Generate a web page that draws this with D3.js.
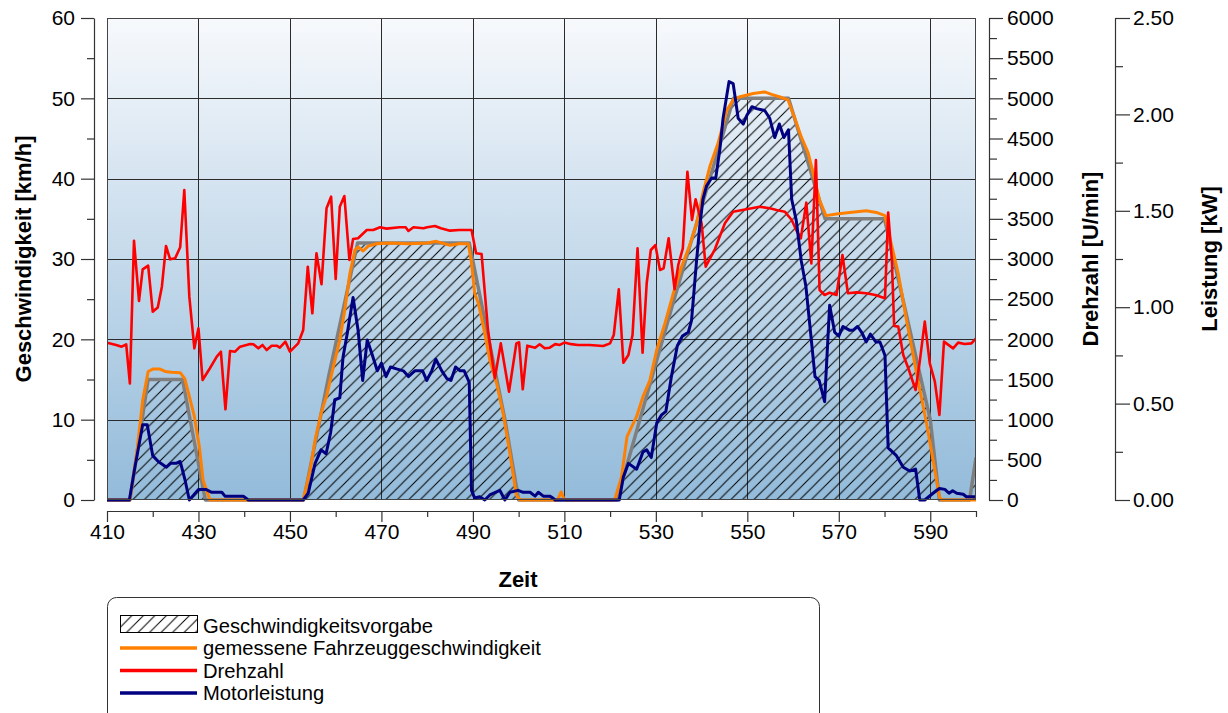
<!DOCTYPE html>
<html>
<head>
<meta charset="utf-8">
<script src="https://cdn.jsdelivr.net/npm/d3@7"></script>
<style>
  html, body { margin: 0; padding: 0; background: #ffffff; }
  svg { display: block; font-family: "Liberation Sans", Arial, sans-serif; }
</style>
</head>
<body>
<svg id="chart" width="1228" height="713"></svg>
<script>
// ---- data: time [s] and readings ----
const setSpeed = [ // Geschwindigkeitsvorgabe [km/h]
  [410,0],[415,0],[419,15],[426.5,15],[431.5,0],[453,0],[458.5,15.5],[464.8,32],[489.2,32],[497,10],[500,0],
  [521.5,0],[534,25],[547,50],[559,50],[567,35],[580,35],[590,10],[592,0],[598.6,0],[600,5.3]
];
const measuredSpeed = [ // gemessene Fahrzeuggeschwindigkeit [km/h]
  [410,0],[415,0],[416.5,5.8],[417.8,12.4],[419,16.0],[420,16.3],[421.6,16.3],[422.7,16.0],[424.1,15.9],[426,15.85],
  [427,15.1],[428,12.9],[429.1,10.4],[430.2,6.6],[431,2.5],[432.5,0],[452.9,0],[454.4,3.7],[455.5,7.5],[456.9,11.0],
  [458,12.9],[459.5,16.6],[460.9,19.9],[462,23.7],[463.1,28.2],[464.2,31.1],[464.9,31.5],[466,31.0],[467.1,31.6],
  [468.9,31.9],[471.8,32.0],[476,31.9],[480,32.0],[482,32.2],[485,31.7],[487,31.9],[489,31.9],[489.7,29.5],[490.4,25.7],
  [491.2,24.5],[492.5,21.0],[493.7,17.4],[495.2,14.5],[496.6,10.8],[498.1,5.8],[499.5,0.6],[500.3,0],[508.5,0],[509.3,1.0],
  [510,0],[521,0],[522.5,2.9],[523.7,7.9],[525.8,10.4],[527.2,12.9],[528.7,14.9],[530.2,18.7],[532,22.0],[533.8,25.7],
  [535.6,29.0],[537.4,31.7],[538.9,34.4],[540.3,38.2],[541.8,41.5],[543.6,44.4],[545.5,48.5],[546.9,49.8],[548.4,50.2],
  [551.3,50.6],[553.8,50.8],[555.3,50.5],[557.5,50.1],[558.9,49.8],[560.4,47.5],[561.8,45.2],[563.3,43.2],[564.4,40.7],
  [565.8,37.3],[567.2,35.4],[569.5,35.6],[572.4,35.8],[576,36.0],[578.2,35.8],[580.1,35.4],[581.1,32.8],[583,28.2],
  [584.8,22.4],[587,15.8],[589.2,9.5],[591,3.7],[592,0.4],[592.5,0],[600,0]
];
const engineSpeed = [ // Drehzahl [U/min]
  [410,1958],[412,1930],[413.2,1909],[414.2,1938],[415,1452],[415.9,3228],[417,2477],[417.8,2871],[419,2917],[420,2345],
  [421.1,2395],[422,2656],[422.9,3162],[423.8,2996],[424.9,3009],[426,3146],[426.9,3859],[428,2531],[429.1,1888],
  [430,2137],[430.9,1494],[432.5,1640],[434,1784],[434.9,1846],[435.9,1129],[436.9,1855],[438,1846],[439.1,1909],
  [441.3,1942],[442,1938],[443.1,1888],[444,1930],[444.9,1867],[446,1921],[447.1,1921],[447.8,1896],[449,1971],
  [450,1846],[451.8,1950],[452.9,2116],[453.9,2904],[454.9,2324],[455.8,3071],[456.9,2685],[458,3631],[459,3776],
  [460,2751],[460.9,3651],[461.9,3784],[463,2988],[463.8,3249],[464.9,3258],[466.8,3361],[468.2,3361],[469.7,3395],
  [471.1,3378],[474,3395],[475.3,3395],[475.9,3349],[477,3395],[479.2,3382],[480,3395],[481.7,3411],[483,3382],
  [485,3353],[487,3361],[489.7,3361],[490.7,3071],[491.9,3062],[493.3,2116],[494.8,1515],[496.1,1950],[497.9,1348],
  [499.5,1950],[500.1,1963],[500.9,1378],[501.9,1921],[503.6,1896],[504.6,1938],[505.7,1888],[506.8,1896],[508,1940],
  [509,1930],[510,1960],[511.5,1940],[513,1930],[515.5,1930],[518.5,1917],[520,1950],[520.8,2054],[521.9,2623],
  [522.9,1709],[524,1805],[524.9,2054],[526,3133],[527.1,1834],[528,2698],[528.9,3112],[529.9,3174],[530.9,2863],
  [531.7,2884],[532.8,3258],[534.1,2623],[534.9,2925],[535.9,3133],[536.9,4087],[537.9,3486],[538.7,3743],[540,3445],
  [540.9,2904],[542.9,3121],[545.1,3445],[546.9,3589],[549.8,3619],[552.7,3651],[554.9,3631],[556.4,3610],[558.2,3589],
  [559.7,3486],[560.7,3361],[561.7,3258],[562.9,3701],[564,2946],[565,4232],[565.8,2614],[566.9,2552],[568,2581],
  [569.5,2552],[570.8,3050],[572,2573],[573.9,2585],[576,2573],[578,2552],[580.1,2511],[580.8,3577],[581.6,2988],
  [582.1,2166],[583,2158],[584.1,1805],[585.2,1640],[586.8,1369],[587.7,1722],[588.8,2220],[589.9,1701],[591,1473],
  [592,1058],[593,1971],[595,1888],[596.1,1959],[597.5,1942],[599,1950],[600,2013]
];
const enginePower = [ // Motorleistung [kW]
  [410,0],[414.9,0],[416.1,0.17],[417.8,0.39],[418.8,0.39],[420,0.23],[421.2,0.20],[423,0.17],[423.9,0.19],[425.1,0.19],
  [426,0.20],[427,0.11],[428,0],[429.1,0.03],[430,0.055],[431.6,0.055],[432.9,0.04],[435.1,0.04],[435.8,0.02],[439.8,0.02],
  [440.9,0],[452.9,0],[454,0.035],[455.5,0.19],[456.8,0.26],[457.9,0.24],[458.9,0.35],[459.8,0.52],[460.9,0.53],
  [461.6,0.74],[462.5,0.86],[463.8,1.05],[464.9,0.88],[465.9,0.62],[466.9,0.83],[467.9,0.76],[469.1,0.67],[470,0.71],
  [471,0.64],[472,0.69],[473.3,0.68],[474.8,0.67],[475.9,0.64],[477.3,0.67],[479,0.67],[479.9,0.62],[481,0.67],
  [481.9,0.73],[483.2,0.67],[484.3,0.63],[485.2,0.62],[486.2,0.69],[487.2,0.67],[488.1,0.67],[489.2,0.61],[489.7,0.05],
  [490.4,0.01],[491.5,0.017],[492.6,0],[493.7,0.026],[495.9,0.05],[497,0],[498.1,0.04],[499.9,0.05],[501,0.04],
  [502.5,0.04],[503.6,0.02],[504.3,0.04],[505.4,0.02],[506.8,0.02],[507.5,0.01],[508,0],[522,0],[522.9,0.12],[524,0.19],
  [525.8,0.16],[527.2,0.25],[528,0.26],[529,0.22],[530.2,0.40],[531.2,0.44],[532.2,0.46],[533.4,0.64],[534.7,0.80],
  [535.8,0.85],[537.1,0.87],[537.8,0.93],[538.3,1.07],[538.9,1.24],[539.6,1.42],[540.3,1.56],[541.1,1.63],[542.2,1.67],
  [543.1,1.67],[544,1.82],[544.7,1.98],[546,2.17],[546.9,2.16],[548,1.98],[549.1,1.95],[550,2.00],[551,2.04],[552,2.03],
  [553.8,2.02],[554.9,1.98],[556,1.88],[557,1.95],[558,1.88],[559,1.92],[559.7,1.56],[560.7,1.45],[561.8,1.24],
  [562.8,1.11],[563.7,0.90],[564.8,0.64],[565.7,0.62],[566.9,0.51],[568,1.01],[569.1,0.87],[570,0.85],[570.9,0.90],
  [572.4,0.88],[573.1,0.88],[574.1,0.90],[575,0.87],[576,0.82],[576.9,0.86],[578.1,0.82],[579,0.82],[580.1,0.75],
  [580.8,0.27],[582.6,0.23],[584.1,0.17],[585.5,0.15],[586.8,0.16],[587.7,0],[588.8,0],[590.6,0.035],[592,0.06],
  [593.2,0.055],[594.1,0.035],[594.9,0.048],[595.8,0.035],[597.2,0.03],[597.9,0.017],[600,0.017]
];

const timeTicks = [410, 430, 450, 470, 490, 510, 530, 550, 570, 590];
const legendLabels = ["Geschwindigkeitsvorgabe", "gemessene Fahrzeuggeschwindigkeit", "Drehzahl", "Motorleistung"];

// ---- layout ----
const svg = d3.select("#chart");
const plot = { left: 107, right: 976, top: 18, bottom: 500 };
const FONT = "Liberation Sans, Arial, sans-serif";

const x = d3.scaleLinear().domain([410, 600]).range([plot.left, plot.right]);
const ySpeed = d3.scaleLinear().domain([0, 60]).range([plot.bottom, plot.top]);
const yRpm = d3.scaleLinear().domain([0, 6000]).range([plot.bottom, plot.top]);
const yPower = d3.scaleLinear().domain([0, 2.5]).range([plot.bottom, plot.top]);

const defs = svg.append("defs");
const grad = defs.append("linearGradient").attr("id", "bg").attr("x1", 0).attr("y1", 0).attr("x2", 0).attr("y2", 1);
grad.append("stop").attr("offset", "0%").attr("stop-color", "#f7f9fc");
grad.append("stop").attr("offset", "100%").attr("stop-color", "#93bbda");

const hatch = defs.append("pattern").attr("id", "hatch").attr("patternUnits", "userSpaceOnUse")
  .attr("width", 11.5).attr("height", 11.5);
hatch.append("path").attr("d", "M0,11.5 L11.5,0 M-2,2 L2,-2 M9.5,13.5 L13.5,9.5")
  .attr("stroke", "#000").attr("stroke-width", 1).attr("fill", "none");

defs.append("clipPath").attr("id", "plotclip").append("rect")
  .attr("x", plot.left).attr("y", plot.top - 4).attr("width", plot.right - plot.left).attr("height", plot.bottom - plot.top + 8);

// background
svg.append("rect").attr("x", plot.left).attr("y", plot.top)
  .attr("width", plot.right - plot.left).attr("height", plot.bottom - plot.top).attr("fill", "url(#bg)");

// grid
const grid = svg.append("g").attr("stroke", "#2b2b2b").attr("stroke-width", 1);
grid.selectAll("line.h").data(d3.range(10, 61, 10)).join("line")
  .attr("x1", plot.left).attr("x2", plot.right)
  .attr("y1", d => Math.round(ySpeed(d)) + 0.5).attr("y2", d => Math.round(ySpeed(d)) + 0.5);
grid.selectAll("line.v").data(timeTicks.slice(1)).join("line")
  .attr("y1", plot.top).attr("y2", plot.bottom)
  .attr("x1", d => Math.round(x(d)) + 0.5).attr("x2", d => Math.round(x(d)) + 0.5);

// series
const g = svg.append("g").attr("clip-path", "url(#plotclip)");
const lineSpeed = d3.line().x(d => x(d[0])).y(d => ySpeed(d[1]));
const areaSet = d3.area().x(d => x(d[0])).y0(ySpeed(0)).y1(d => ySpeed(d[1]));

g.append("path").datum(setSpeed).attr("d", areaSet).attr("fill", "url(#hatch)");
g.append("path").datum(setSpeed).attr("d", lineSpeed).attr("fill", "none")
  .attr("stroke", "#7f7f7f").attr("stroke-width", 3.5).attr("stroke-linejoin", "round");
g.append("path").datum(measuredSpeed).attr("d", lineSpeed).attr("fill", "none")
  .attr("stroke", "#ff8000").attr("stroke-width", 3).attr("stroke-linejoin", "round");
g.append("path").datum(engineSpeed)
  .attr("d", d3.line().x(d => x(d[0])).y(d => yRpm(d[1])))
  .attr("fill", "none").attr("stroke", "#ff0000").attr("stroke-width", 2.6).attr("stroke-linejoin", "round");
g.append("path").datum(enginePower)
  .attr("d", d3.line().x(d => x(d[0])).y(d => yPower(d[1])))
  .attr("fill", "none").attr("stroke", "#000080").attr("stroke-width", 3).attr("stroke-linejoin", "round");

// plot frame
svg.append("rect").attr("x", plot.left + 0.5).attr("y", plot.top + 0.5)
  .attr("width", plot.right - plot.left - 1).attr("height", plot.bottom - plot.top - 1)
  .attr("fill", "none").attr("stroke", "#444").attr("stroke-width", 1);

// ---- axes ----
function styleAxis(sel) {
  sel.selectAll("path.domain").attr("stroke", "#333").attr("stroke-width", 1.2);
  sel.selectAll(".tick line").attr("stroke", "#333").attr("stroke-width", 1.2);
  sel.selectAll(".tick text").attr("fill", "#000").style("font-family", FONT).style("font-size", "21px");
}

// left: speed
const leftX = 94;
svg.append("g").attr("transform", `translate(${leftX},0)`)
  .call(d3.axisLeft(ySpeed).tickValues(d3.range(5, 60, 10)).tickSize(7).tickFormat(""))
  .call(styleAxis).call(s => s.select("path.domain").remove());
svg.append("g").attr("transform", `translate(${leftX},0)`)
  .call(d3.axisLeft(ySpeed).tickValues(d3.range(0, 61, 10)).tickSize(13).tickSizeOuter(0).tickPadding(6))
  .call(styleAxis);

// bottom: time
const axisY = 511;
const bottomScale = x.copy();
svg.append("g").attr("transform", `translate(0,${axisY})`)
  .call(d3.axisBottom(bottomScale).tickValues(d3.range(420, 601, 20)).tickSize(6).tickFormat(""))
  .call(styleAxis).call(s => s.select("path.domain").remove());
svg.append("g").attr("transform", `translate(0,${axisY})`)
  .call(d3.axisBottom(bottomScale).tickValues(timeTicks).tickSize(11).tickSizeOuter(0).tickPadding(2))
  .call(styleAxis);

// right 1: engine speed
const rpmX = 989;
svg.append("g").attr("transform", `translate(${rpmX},0)`)
  .call(d3.axisRight(yRpm).tickValues(d3.range(250, 6000, 500)).tickSize(8).tickFormat(""))
  .call(styleAxis).call(s => s.select("path.domain").remove());
svg.append("g").attr("transform", `translate(${rpmX},0)`)
  .call(d3.axisRight(yRpm).tickValues(d3.range(0, 6001, 500)).tickSize(14).tickSizeOuter(0).tickPadding(4).tickFormat(d3.format("d")))
  .call(styleAxis);

// right 2: power
const powX = 1115;
svg.append("g").attr("transform", `translate(${powX},0)`)
  .call(d3.axisRight(yPower).tickValues([0.25, 0.75, 1.25, 1.75, 2.25]).tickSize(8).tickFormat(""))
  .call(styleAxis).call(s => s.select("path.domain").remove());
svg.append("g").attr("transform", `translate(${powX},0)`)
  .call(d3.axisRight(yPower).tickValues([0, 0.5, 1, 1.5, 2, 2.5]).tickSize(15).tickSizeOuter(0).tickPadding(3).tickFormat(d3.format(".2f")))
  .call(styleAxis);

// axis titles
const midY = (plot.top + plot.bottom) / 2;
function vTitle(cx, text) {
  svg.append("text").attr("transform", `translate(${cx},${midY}) rotate(-90)`)
    .attr("text-anchor", "middle").attr("dominant-baseline", "central")
    .style("font-family", FONT).style("font-size", "22px").style("font-weight", "bold").text(text);
}
vTitle(23, "Geschwindigkeit [km/h]");
vTitle(1090, "Drehzahl [U/min]");
vTitle(1209, "Leistung [kW]");
svg.append("text").attr("x", 518).attr("y", 587).attr("text-anchor", "middle")
  .style("font-family", FONT).style("font-size", "22px").style("font-weight", "bold").text("Zeit");

// ---- legend ----
const lg = svg.append("g");
lg.append("rect").attr("x", 107.5).attr("y", 597.5).attr("width", 712).attr("height", 140).attr("rx", 9)
  .attr("fill", "#fff").attr("stroke", "#333").attr("stroke-width", 1);
const rowY = [625.5, 648, 670.5, 693];
const swatchX0 = 120, swatchX1 = 197;
lg.append("rect").attr("x", swatchX0 + 0.5).attr("y", 615.5).attr("width", swatchX1 - swatchX0).attr("height", 17)
  .attr("fill", "url(#hatch)").attr("stroke", "#000").attr("stroke-width", 1);
const legendColors = [null, "#ff8000", "#ff0000", "#000080"];
legendColors.forEach((c, i) => {
  if (c) lg.append("line").attr("x1", swatchX0).attr("x2", swatchX1).attr("y1", rowY[i]).attr("y2", rowY[i])
    .attr("stroke", c).attr("stroke-width", 3.5);
});
lg.selectAll("text").data(legendLabels).join("text")
  .attr("x", 203).attr("y", (d, i) => rowY[i]).attr("dominant-baseline", "central")
  .style("font-family", FONT).style("font-size", "20.2px").text(d => d);
</script>
</body>
</html>
